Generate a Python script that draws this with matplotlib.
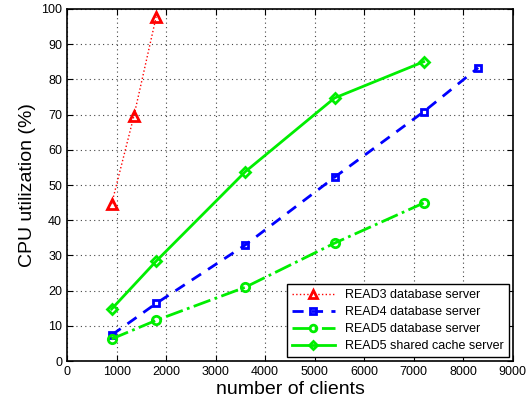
import matplotlib
matplotlib.use("Agg")
import matplotlib.pyplot as plt

plt.rcParams['font.family'] = ['Liberation Sans', 'DejaVu Sans']

x_read3 = [900, 1350, 1800]
y_read3 = [44.6, 69.6, 97.8]
x_read4 = [900, 1800, 3600, 5400, 7200, 8300]
y_read4 = [7.4, 16.4, 33.0, 52.2, 70.8, 83.3]
x_read5db = [900, 1800, 3600, 5400, 7200]
y_read5db = [6.3, 11.6, 21.0, 33.5, 44.9]
x_read5sc = [900, 1800, 3600, 5400, 7200]
y_read5sc = [14.8, 28.4, 53.8, 74.7, 85.0]

fig = plt.figure(figsize=(5.32, 4.04), dpi=100)
ax = fig.add_axes([0.126, 0.106, 0.838, 0.872])

ax.plot(x_read3, y_read3, color='red', linestyle=':', linewidth=1.0, marker='^',
        markersize=7, markerfacecolor='none', markeredgewidth=2, label='READ3 database server')
ax.plot(x_read4, y_read4, color='blue', linestyle='--', linewidth=2, dashes=(4, 3), marker='s',
        markersize=5, markerfacecolor='none', markeredgewidth=2, label='READ4 database server')
ax.plot(x_read5db, y_read5db, color='#00ee00', linestyle='-.', linewidth=2, marker='o',
        markersize=6, markerfacecolor='none', markeredgewidth=2, label='READ5 database server')
ax.plot(x_read5sc, y_read5sc, color='#00ee00', linestyle='-', linewidth=2, marker='D',
        markersize=5, markerfacecolor='none', markeredgewidth=2, label='READ5 shared cache server')

ax.set_xlim(0, 9000)
ax.set_ylim(0, 100)
ax.set_xticks(range(0, 9001, 1000))
ax.set_yticks(range(0, 101, 10))
ax.grid(True, linestyle=(0, (1, 3)), color='#444444', linewidth=0.8)
ax.tick_params(direction='in', top=True, right=True, labelsize=9, length=4)
for s in ax.spines.values():
    s.set_linewidth(1.2)

ax.set_xlabel('number of clients', fontsize=14, labelpad=2)
ax.set_ylabel('CPU utilization (%)', fontsize=14, labelpad=4)

leg = ax.legend(loc='lower right', fontsize=9, fancybox=False, framealpha=1,
                edgecolor='black', handlelength=3.5, borderaxespad=0.3, labelspacing=0.4,
                markerscale=0.8)
leg.get_frame().set_linewidth(1.0)

fig.savefig('out.png', dpi=100)
